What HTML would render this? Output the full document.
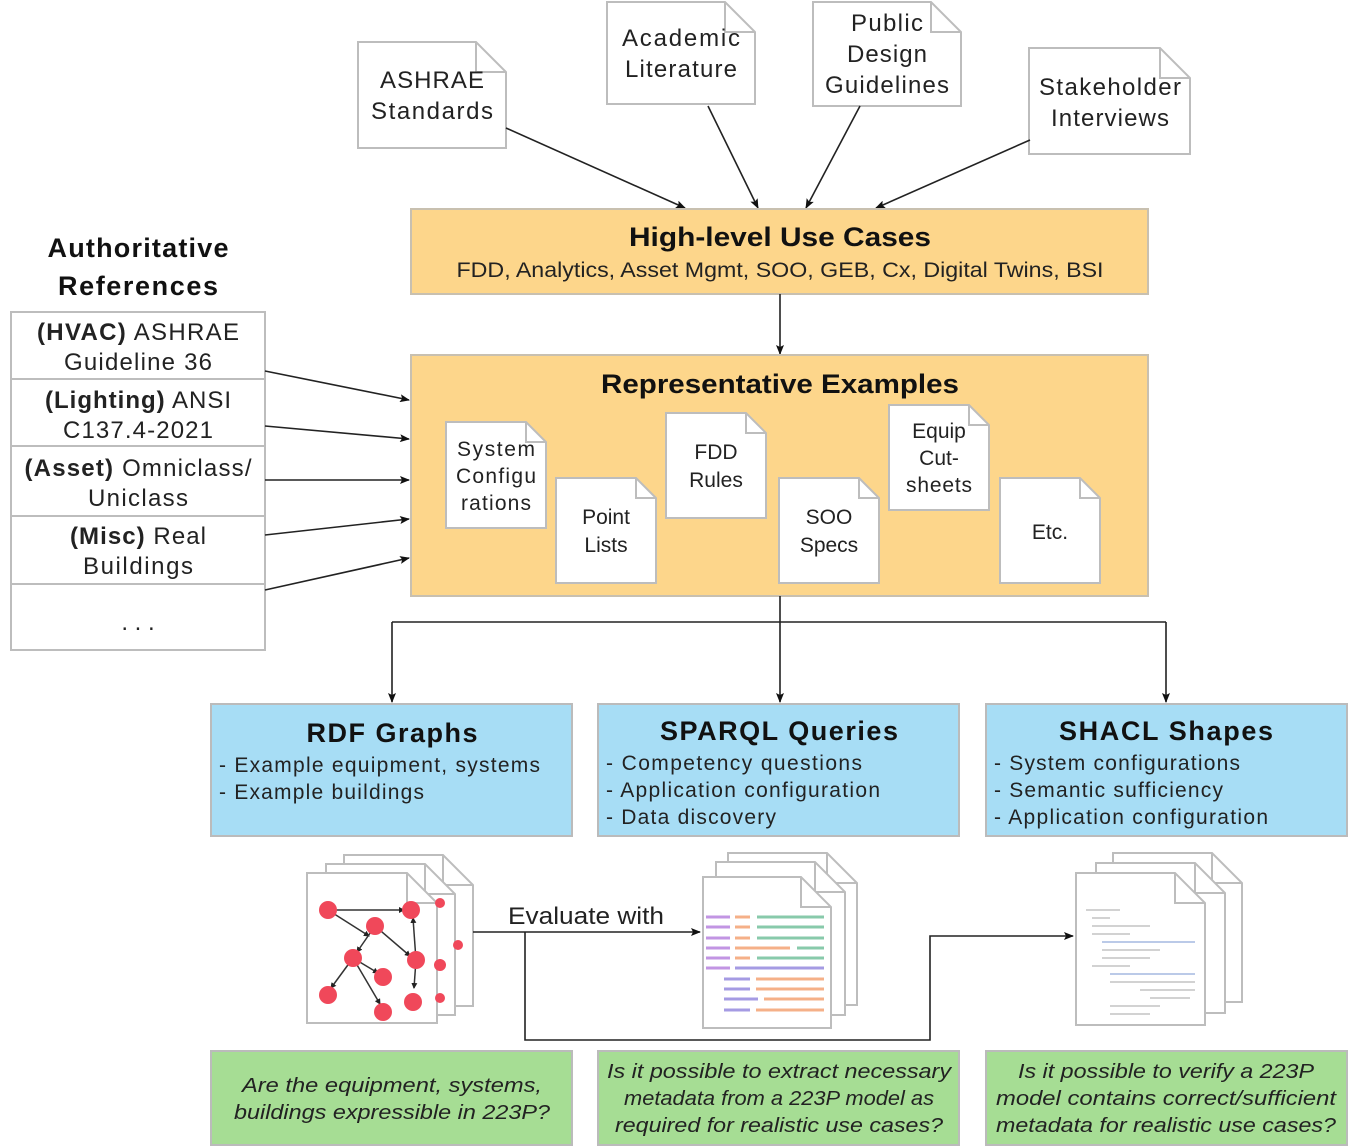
<!DOCTYPE html>
<html><head><meta charset="utf-8"><style>
html,body{margin:0;padding:0;background:#fff;}
svg{display:block;font-family:"Liberation Sans",sans-serif;}
</style></head><body>
<svg width="1350" height="1148" viewBox="0 0 1350 1148" xmlns="http://www.w3.org/2000/svg">
<defs>
<marker id="ar" markerWidth="10" markerHeight="8" refX="9" refY="4" orient="auto" markerUnits="userSpaceOnUse">
<path d="M0,0 L10,4 L0,8 L2,4 Z" fill="#111"/></marker>
<marker id="sa" markerWidth="6" markerHeight="6" refX="5" refY="3" orient="auto" markerUnits="userSpaceOnUse">
<path d="M0,0 L6,3 L0,6 Z" fill="#222"/></marker>
</defs>
<g stroke="#bdbdbd" stroke-width="2" fill="#fff">
<path d="M358,42 H476 L506,72 V148 H358 Z"/><path d="M476,42 V72 H506" fill="none"/>
<path d="M607,2 H725 L755,32 V104 H607 Z"/><path d="M725,2 V32 H755" fill="none"/>
<path d="M813,2 H931 L961,32 V106 H813 Z"/><path d="M931,2 V32 H961" fill="none"/>
<path d="M1029,48 H1160 L1190,78 V154 H1029 Z"/><path d="M1160,48 V78 H1190" fill="none"/>
</g>
<g font-size="24" fill="#222" text-anchor="middle" lengthAdjust="spacingAndGlyphs">
<text x="432" y="88" textLength="104">ASHRAE</text><text x="432" y="119" textLength="122">Standards</text>
<text x="681" y="46" textLength="118">Academic</text><text x="681" y="77" textLength="112">Literature</text>
<text x="887" y="31" textLength="72">Public</text><text x="887" y="62" textLength="80">Design</text><text x="887" y="93" textLength="124">Guidelines</text>
<text x="1110" y="95" textLength="142">Stakeholder</text><text x="1110" y="126" textLength="118">Interviews</text>
</g>
<g stroke="#222" stroke-width="1.6" fill="none" marker-end="url(#ar)">
<line x1="506" y1="128" x2="685" y2="208"/>
<line x1="708" y1="106" x2="758" y2="208"/>
<line x1="860" y1="106" x2="806" y2="208"/>
<line x1="1030" y1="140" x2="876" y2="208"/>
</g>
<rect x="411" y="209" width="737" height="85" fill="#fdd68b" stroke="#c8c0b0" stroke-width="2"/>
<text x="780" y="246" font-size="27" font-weight="bold" text-anchor="middle" fill="#111" textLength="302" lengthAdjust="spacingAndGlyphs">High-level Use Cases</text>
<text x="780" y="277" font-size="21" text-anchor="middle" fill="#222" textLength="647" lengthAdjust="spacingAndGlyphs">FDD, Analytics, Asset Mgmt, SOO, GEB, Cx, Digital Twins, BSI</text>
<line x1="780" y1="294" x2="780" y2="354" stroke="#222" stroke-width="1.6" marker-end="url(#ar)"/>
<rect x="411" y="355" width="737" height="241" fill="#fdd68b" stroke="#c8c0b0" stroke-width="2"/>
<text x="780" y="393" font-size="27" font-weight="bold" text-anchor="middle" fill="#111" textLength="358" lengthAdjust="spacingAndGlyphs">Representative Examples</text>
<g stroke="#bdbdbd" stroke-width="2" fill="#fff">
<path d="M446,422 H526 L546,442 V528 H446 Z"/><path d="M526,422 V442 H546" fill="none"/>
<path d="M556,478 H636 L656,498 V583 H556 Z"/><path d="M636,478 V498 H656" fill="none"/>
<path d="M666,413 H746 L766,433 V518 H666 Z"/><path d="M746,413 V433 H766" fill="none"/>
<path d="M779,478 H859 L879,498 V583 H779 Z"/><path d="M859,478 V498 H879" fill="none"/>
<path d="M889,405 H969 L989,425 V510 H889 Z"/><path d="M969,405 V425 H989" fill="none"/>
<path d="M1000,478 H1080 L1100,498 V583 H1000 Z"/><path d="M1080,478 V498 H1100" fill="none"/>
</g>
<g font-size="21" fill="#222" text-anchor="middle" lengthAdjust="spacingAndGlyphs">
<text x="496" y="456" textLength="78">System</text><text x="496" y="483" textLength="80">Configu</text><text x="496" y="510" textLength="70">rations</text>
<text x="606" y="524">Point</text><text x="606" y="552">Lists</text>
<text x="716" y="459">FDD</text><text x="716" y="487">Rules</text>
<text x="829" y="524">SOO</text><text x="829" y="552">Specs</text>
<text x="939" y="438">Equip</text><text x="939" y="465">Cut-</text><text x="939" y="492" textLength="66">sheets</text>
<text x="1050" y="539">Etc.</text>
</g>
<g font-size="27" font-weight="bold" fill="#111" text-anchor="middle" lengthAdjust="spacingAndGlyphs">
<text x="138" y="257" textLength="181">Authoritative</text><text x="138" y="295" textLength="160">References</text>
</g>
<rect x="11" y="312" width="254" height="338" fill="#fff" stroke="#bdbdbd" stroke-width="2"/>
<g stroke="#bdbdbd" stroke-width="2">
<line x1="11" y1="379" x2="265" y2="379"/><line x1="11" y1="446" x2="265" y2="446"/>
<line x1="11" y1="516" x2="265" y2="516"/><line x1="11" y1="584" x2="265" y2="584"/>
</g>
<g font-size="24" fill="#222" text-anchor="middle" lengthAdjust="spacingAndGlyphs">
<text x="138" y="340" textLength="202"><tspan font-weight="bold">(HVAC)</tspan> ASHRAE</text><text x="138" y="370" textLength="148">Guideline 36</text>
<text x="138" y="408" textLength="186"><tspan font-weight="bold">(Lighting)</tspan> ANSI</text><text x="138" y="438" textLength="150">C137.4-2021</text>
<text x="138" y="476" textLength="227"><tspan font-weight="bold">(Asset)</tspan> Omniclass/</text><text x="138" y="506" textLength="100">Uniclass</text>
<text x="138" y="544" textLength="136"><tspan font-weight="bold">(Misc)</tspan> Real</text><text x="138" y="574" textLength="110">Buildings</text>
<text x="138" y="630">. . .</text>
</g>
<g stroke="#222" stroke-width="1.6" fill="none" marker-end="url(#ar)">
<line x1="265" y1="371" x2="409" y2="400"/>
<line x1="265" y1="426" x2="409" y2="439"/>
<line x1="265" y1="480" x2="409" y2="480"/>
<line x1="265" y1="535" x2="409" y2="519"/>
<line x1="265" y1="590" x2="409" y2="558"/>
</g>
<g stroke="#222" stroke-width="1.6" fill="none">
<path d="M780,596 V622 M392,622 H1166"/>
<line x1="392" y1="622" x2="392" y2="702" marker-end="url(#ar)"/>
<line x1="780" y1="622" x2="780" y2="702" marker-end="url(#ar)"/>
<line x1="1166" y1="622" x2="1166" y2="702" marker-end="url(#ar)"/>
</g>
<g fill="#a7ddf5" stroke="#bbbbbb" stroke-width="2">
<rect x="211" y="704" width="361" height="132"/>
<rect x="598" y="704" width="361" height="132"/>
<rect x="986" y="704" width="361" height="132"/>
</g>
<g font-size="27" font-weight="bold" fill="#111" text-anchor="middle" lengthAdjust="spacingAndGlyphs">
<text x="392" y="742" textLength="171">RDF Graphs</text><text x="779" y="740" textLength="238">SPARQL Queries</text><text x="1166" y="740" textLength="214">SHACL Shapes</text>
</g>
<g font-size="21" fill="#222" lengthAdjust="spacingAndGlyphs">
<text x="219" y="772" textLength="321">- Example equipment, systems</text><text x="219" y="799" textLength="205">- Example buildings</text>
<text x="606" y="770" textLength="256">- Competency questions</text><text x="606" y="797" textLength="274">- Application configuration</text><text x="606" y="824" textLength="170">- Data discovery</text>
<text x="994" y="770" textLength="246">- System configurations</text><text x="994" y="797" textLength="229">- Semantic sufficiency</text><text x="994" y="824" textLength="274">- Application configuration</text>
</g>
<g stroke="#bdbdbd" stroke-width="2" fill="#fff">
<path d="M344,855 H443 L473,885 V1006 H344 Z"/><path d="M443,855 V885 H473" fill="none"/>
<path d="M326,864 H425 L455,894 V1015 H326 Z"/><path d="M425,864 V894 H455" fill="none"/>
<path d="M307,873 H407 L437,903 V1023 H307 Z"/><path d="M407,873 V903 H437" fill="none"/>
</g>
<g fill="#f0485a"><circle cx="440" cy="903" r="5"/><circle cx="458" cy="945" r="5"/><circle cx="440" cy="965" r="6"/><circle cx="440" cy="998" r="5"/></g>
<g stroke="#333" stroke-width="1.5" marker-end="url(#sa)">
<line x1="328" y1="910" x2="404" y2="910"/>
<line x1="328" y1="910" x2="369" y2="936"/>
<line x1="375" y1="926" x2="357" y2="952"/>
<line x1="375" y1="926" x2="410" y2="956"/>
<line x1="416" y1="960" x2="413" y2="918"/>
<line x1="416" y1="960" x2="414" y2="988"/>
<line x1="353" y1="958" x2="331" y2="988"/>
<line x1="353" y1="958" x2="378" y2="973"/>
<line x1="353" y1="958" x2="380" y2="1004"/>
</g>
<g fill="#f0485a">
<circle cx="328" cy="910" r="9"/><circle cx="411" cy="910" r="9"/><circle cx="375" cy="926" r="9"/>
<circle cx="353" cy="958" r="9"/><circle cx="416" cy="960" r="9"/><circle cx="383" cy="977" r="9"/>
<circle cx="328" cy="995" r="9"/><circle cx="413" cy="1002" r="9"/><circle cx="383" cy="1012" r="9"/>
</g>
<g stroke="#bdbdbd" stroke-width="2" fill="#fff">
<path d="M728,853 H827 L857,883 V1005 H728 Z"/><path d="M827,853 V883 H857" fill="none"/>
<path d="M716,862 H815 L845,892 V1015 H716 Z"/><path d="M815,862 V892 H845" fill="none"/>
<path d="M703,877 H801 L831,907 V1028 H703 Z"/><path d="M801,877 V907 H831" fill="none"/>
</g>
<g stroke-width="3" opacity="0.6">
<line x1="706" y1="917" x2="730" y2="917" stroke="#9b4fd1"/><line x1="735" y1="917" x2="750" y2="917" stroke="#f07c3a"/><line x1="757" y1="917" x2="824" y2="917" stroke="#3aa874"/>
<line x1="706" y1="927" x2="730" y2="927" stroke="#9b4fd1"/><line x1="735" y1="927" x2="750" y2="927" stroke="#f07c3a"/><line x1="757" y1="927" x2="824" y2="927" stroke="#3aa874"/>
<line x1="706" y1="938" x2="730" y2="938" stroke="#9b4fd1"/><line x1="735" y1="938" x2="750" y2="938" stroke="#f07c3a"/><line x1="757" y1="938" x2="824" y2="938" stroke="#3aa874"/>
<line x1="706" y1="948" x2="730" y2="948" stroke="#9b4fd1"/><line x1="735" y1="948" x2="790" y2="948" stroke="#f07c3a"/><line x1="797" y1="948" x2="824" y2="948" stroke="#3aa874"/>
<line x1="706" y1="958" x2="730" y2="958" stroke="#9b4fd1"/><line x1="735" y1="958" x2="750" y2="958" stroke="#f07c3a"/><line x1="757" y1="958" x2="824" y2="958" stroke="#3aa874"/>
<line x1="706" y1="968" x2="730" y2="968" stroke="#9b4fd1"/><line x1="735" y1="968" x2="824" y2="968" stroke="#6a5ad1"/>
<line x1="724" y1="979" x2="750" y2="979" stroke="#6a5ad1"/><line x1="756" y1="979" x2="824" y2="979" stroke="#f07c3a"/>
<line x1="724" y1="989" x2="750" y2="989" stroke="#6a5ad1"/><line x1="756" y1="989" x2="824" y2="989" stroke="#f07c3a"/>
<line x1="724" y1="999" x2="758" y2="999" stroke="#6a5ad1"/><line x1="764" y1="999" x2="824" y2="999" stroke="#f07c3a"/>
<line x1="724" y1="1010" x2="750" y2="1010" stroke="#6a5ad1"/><line x1="756" y1="1010" x2="824" y2="1010" stroke="#f07c3a"/>
</g>
<g stroke="#bdbdbd" stroke-width="2" fill="#fff">
<path d="M1113,853 H1212 L1242,883 V1002 H1113 Z"/><path d="M1212,853 V883 H1242" fill="none"/>
<path d="M1096,863 H1195 L1225,893 V1013 H1096 Z"/><path d="M1195,863 V893 H1225" fill="none"/>
<path d="M1076,873 H1175 L1205,903 V1025 H1076 Z"/><path d="M1175,873 V903 H1205" fill="none"/>
</g>
<g stroke="#999" stroke-width="1.2" opacity="0.7">
<line x1="1086" y1="910" x2="1120" y2="910"/><line x1="1092" y1="918" x2="1110" y2="918"/><line x1="1092" y1="926" x2="1150" y2="926"/>
<line x1="1092" y1="934" x2="1130" y2="934"/><line x1="1102" y1="942" x2="1195" y2="942" stroke="#6688cc"/><line x1="1102" y1="950" x2="1160" y2="950"/>
<line x1="1102" y1="958" x2="1150" y2="958"/><line x1="1092" y1="966" x2="1130" y2="966"/><line x1="1110" y1="974" x2="1195" y2="974" stroke="#6688cc"/>
<line x1="1110" y1="982" x2="1195" y2="982"/><line x1="1140" y1="990" x2="1195" y2="990"/><line x1="1150" y1="998" x2="1190" y2="998"/>
<line x1="1110" y1="1006" x2="1160" y2="1006"/><line x1="1110" y1="1014" x2="1150" y2="1014"/>
</g>
<g stroke="#222" stroke-width="1.6" fill="none">
<line x1="473" y1="932" x2="700" y2="932" marker-end="url(#ar)"/>
<path d="M525,932 V1040 H930 V936 H1073" marker-end="url(#ar)"/>
</g>
<text x="586" y="924" font-size="24" text-anchor="middle" fill="#222" textLength="156" lengthAdjust="spacingAndGlyphs">Evaluate with</text>
<g fill="#a6dd94" stroke="#bbbbbb" stroke-width="2">
<rect x="211" y="1051" width="361" height="94"/>
<rect x="598" y="1051" width="361" height="94"/>
<rect x="986" y="1051" width="361" height="94"/>
</g>
<g font-size="20" font-style="italic" fill="#222" text-anchor="middle">
<text x="392" y="1092" textLength="300" lengthAdjust="spacingAndGlyphs">Are the equipment, systems,</text>
<text x="392" y="1119" textLength="316" lengthAdjust="spacingAndGlyphs">buildings expressible in 223P?</text>
<text x="779" y="1078" textLength="344" lengthAdjust="spacingAndGlyphs">Is it possible to extract necessary</text>
<text x="779" y="1105" textLength="310" lengthAdjust="spacingAndGlyphs">metadata from a 223P model as</text>
<text x="779" y="1132" textLength="328" lengthAdjust="spacingAndGlyphs">required for realistic use cases?</text>
<text x="1166" y="1078" textLength="296" lengthAdjust="spacingAndGlyphs">Is it possible to verify a 223P</text>
<text x="1166" y="1105" textLength="340" lengthAdjust="spacingAndGlyphs">model contains correct/sufficient</text>
<text x="1166" y="1132" textLength="340" lengthAdjust="spacingAndGlyphs">metadata for realistic use cases?</text>
</g>
</svg>
</body></html>
